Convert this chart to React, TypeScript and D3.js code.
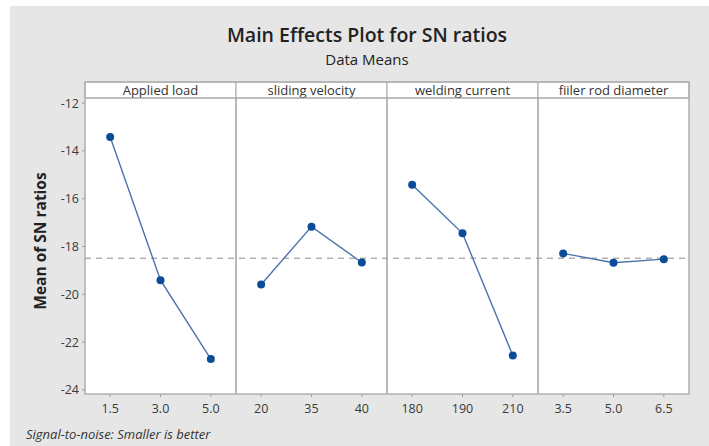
import React from "react";
import * as d3 from "d3";

const factors = ["Applied load", "sliding velocity", "welding current", "fiiler rod diameter"];
const levels = [
  ["1.5", "3.0", "5.0"],
  ["20", "35", "40"],
  ["180", "190", "210"],
  ["3.5", "5.0", "6.5"],
];
const appliedLoad = [-13.42, -19.41, -22.71];
const slidingVelocity = [-19.59, -17.17, -18.67];
const weldingCurrent = [-15.42, -17.45, -22.56];
const fillerRod = [-18.29, -18.68, -18.53];
const seriesValues = [appliedLoad, slidingVelocity, weldingCurrent, fillerRod];
const yTicks = [-12, -14, -16, -18, -20, -22, -24];
const overallMean = -18.49;

const W = 709, H = 446;
const left = 85, right = 689, stripTop = 82, stripBottom = 98, bottom = 394;
const font = "'Open Sans', 'Noto Sans', sans-serif";

export default function App() {
  const y = d3.scaleLinear().domain([-24.17, -11.79]).range([bottom, stripBottom]);
  const panelScale = d3.scaleBand<number>().domain(d3.range(factors.length)).range([left, right]).paddingInner(0).paddingOuter(0);
  const pw = panelScale.bandwidth();
  const line = d3.line<[number, number]>().x(d => d[0]).y(d => d[1]);
  return (
    <svg width={W} height={H} style={{ position: "absolute", left: 0, top: 0 }}>
      <rect x={0} y={0} width={W} height={H} fill="#ffffff" />
      <rect x={10} y={6} width={W - 10} height={H - 6} fill="#e6e6e6" />
      <text x={367} y={42} textAnchor="middle" fontFamily={font} fontSize={19.5} fontWeight={600} fill="#222">Main Effects Plot for SN ratios</text>
      <text x={367} y={64.5} textAnchor="middle" fontFamily={font} fontSize={15} fontWeight={500} fill="#222">Data Means</text>
      <text transform={`translate(46,${241}) rotate(-90)`} textAnchor="middle" fontFamily={font} fontSize={15.5} fontWeight={700} fill="#222">Mean of SN ratios</text>
      {yTicks.map(t => (
        <g key={t}>
          <line x1={left - 3} x2={left} y1={y(t)} y2={y(t)} stroke="#999" />
          <text x={left - 6} y={y(t) + 4.5} textAnchor="end" fontFamily={font} fontSize={12.5} fill="#3a3a3a">{t}</text>
        </g>
      ))}
      {factors.map((f, i) => {
        const x0 = panelScale(i)!;
        const xs = d3.scalePoint<string>().domain(levels[i]).range([x0, x0 + pw]).padding(0.5);
        return (
          <g key={f}>
            <rect x={x0} y={stripBottom} width={pw} height={bottom - stripBottom} fill="#ffffff" />
            <rect x={x0} y={stripTop} width={pw} height={stripBottom - stripTop} fill="#ffffff" stroke="#a8a8a8" />
            <text x={x0 + pw / 2} y={stripTop + 12.5} textAnchor="middle" fontFamily={font} fontSize={13} fill="#333">{f}</text>
            {levels[i].map(l => (
              <g key={l}>
                <line x1={xs(l)} x2={xs(l)} y1={bottom} y2={bottom + 3} stroke="#999" />
                <text x={xs(l)} y={bottom + 18.5} textAnchor="middle" fontFamily={font} fontSize={12.5} fill="#3a3a3a">{l}</text>
              </g>
            ))}
          </g>
        );
      })}
      <line x1={left} x2={right} y1={y(overallMean)} y2={y(overallMean)} stroke="#8a8a8a" strokeWidth={1} strokeDasharray="6,5" />
      {factors.map((f, i) => {
        const x0 = panelScale(i)!;
        const xs = d3.scalePoint<string>().domain(levels[i]).range([x0, x0 + pw]).padding(0.5);
        const pts: [number, number][] = seriesValues[i].map((v, j) => [xs(levels[i][j])!, y(v)]);
        return (
          <g key={"s" + f}>
            <path d={line(pts)!} fill="none" stroke="#4a73ad" strokeWidth={1.4} />
            {pts.map((p, j) => <circle key={j} cx={p[0]} cy={p[1]} r={4} fill="#0b4c99" />)}
          </g>
        );
      })}
      {factors.map((f, i) => i > 0 ? (
        <line key={"d" + i} x1={panelScale(i)!} x2={panelScale(i)!} y1={stripBottom} y2={bottom} stroke="#a0a0a0" strokeWidth={1.5} />
      ) : null)}
      <rect x={left} y={stripTop} width={right - left} height={bottom - stripTop} fill="none" stroke="#b0b0b0" strokeWidth={1.5} />
      <line x1={left} x2={right} y1={stripBottom} y2={stripBottom} stroke="#a8a8a8" />
      <text x={26} y={439} fontFamily={font} fontSize={13} fontStyle="italic" fill="#333">Signal-to-noise: Smaller is better</text>
    </svg>
  );
}
